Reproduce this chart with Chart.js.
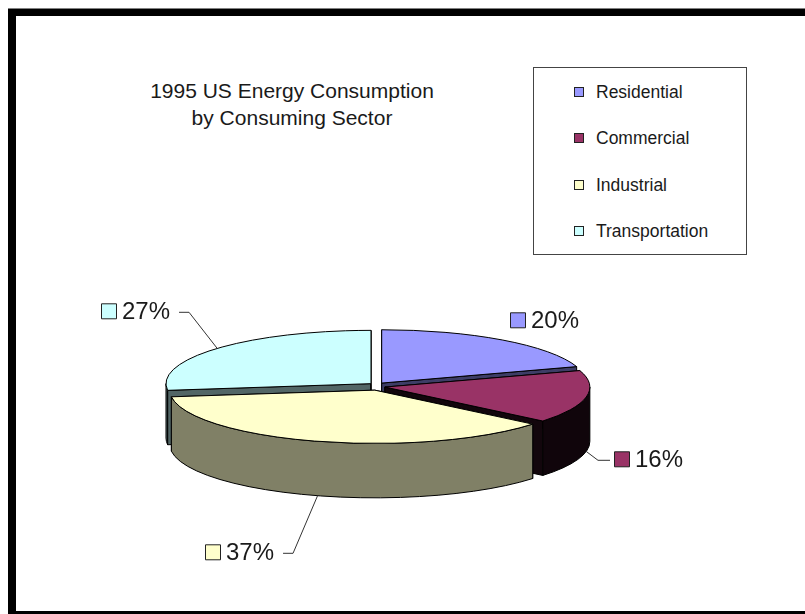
<!DOCTYPE html>
<html>
<head>
<meta charset="utf-8">
<script src="https://cdn.jsdelivr.net/npm/chart.js@4.4.1/dist/chart.umd.min.js"></script>
<style>
  body { margin: 0; width: 805px; height: 614px; overflow: hidden; background: #fff; font-family: "Liberation Sans", Arial, sans-serif; }
  #topline { position: absolute; left: 8px; top: 8px; width: 797px; height: 1px; background: #808080; }
  #frame { position: absolute; left: 8px; top: 9px; width: 797px; height: 605px; box-sizing: border-box;
           border-top: 7px solid #000; border-left: 8px solid #000; border-bottom: 3px solid #000; }
  #title { position: absolute; left: 142px; top: 77px; width: 300px; text-align: center; font-size: 21px; line-height: 27px; color: #1a1a1a; }
  #legend { position: absolute; left: 533px; top: 67px; width: 214px; height: 188px; box-sizing: border-box; border: 1px solid #444; }
  .item { position: absolute; left: 40px; height: 20px; line-height: 20px; font-size: 17.5px; color: #1a1a1a; white-space: nowrap; }
  .item span { display: inline-block; width: 8px; height: 8px; border: 1px solid #222; margin-right: 12px; vertical-align: 1px; }
  canvas { position: absolute; left: 0; top: 0; }
</style>
</head>
<body>
<div id="topline"></div>
<div id="frame"></div>
<div id="title">1995 US Energy Consumption<br>by Consuming Sector</div>
<div id="legend"></div>
<canvas id="chart" width="805" height="614"></canvas>
<script>
const sectors = ['Residential', 'Commercial', 'Industrial', 'Transportation'];
const shares = [20, 16, 37, 27];
const colors = ['#9999FF', '#993366', '#FFFFCC', '#CCFFFF'];

// tilt of the pie (ry / rx), explode distance, label spots relative to pie centre
const TILT = 0.26;
const EXPLODE = 8;
const LABEL_SPOT = [[133, -66], [237, 73], [-172, 166], [-276, -75]];

// legend
const legend = document.getElementById('legend');
sectors.forEach((name, i) => {
  const d = document.createElement('div');
  d.className = 'item';
  d.style.top = (14 + i * 46.3) + 'px';
  d.innerHTML = '<span style="background:' + colors[i] + '"></span>' + name;
  legend.appendChild(d);
});

function shade(hex, f) {
  const n = parseInt(hex.slice(1), 16);
  const r = Math.round(((n >> 16) & 255) * f), g = Math.round(((n >> 8) & 255) * f), b = Math.round((n & 255) * f);
  return 'rgb(' + r + ',' + g + ',' + b + ')';
}

// darker on the right hand side, like the old 3-D pie lighting
function sideShade(a) {
  const c = Math.cos(a);
  return 0.5 - 0.4 * Math.max(0, c) - 0.2 * Math.max(0, -c - 0.3);
}

const pie3d = {
  id: 'pie3d',
  beforeDatasetsDraw(chart) {
    const ctx = chart.ctx, area = chart.chartArea;
    const meta = chart.getDatasetMeta(0);
    const rx = (area.right - area.left) / 2;
    const ry = rx * TILT;
    const depth = (area.bottom - area.top) - 2 * ry;
    const cx = (area.left + area.right) / 2, cy = area.top + ry;
    const total = shares.reduce((a, b) => a + b, 0);

    const slices = meta.data.map((arc, i) => {
      const s = arc.startAngle, e = arc.endAngle, m = (s + e) / 2;
      return { i, s, e, m, ox: cx + EXPLODE * Math.cos(m), oy: cy + EXPLODE * 0.5 * Math.sin(m) };
    });

    ctx.save();
    ctx.lineWidth = 1;
    ctx.strokeStyle = '#000';
    ctx.lineJoin = 'round';

    const wall = (sl, a) => {
      const px = sl.ox + rx * Math.cos(a), py = sl.oy + ry * Math.sin(a);
      ctx.beginPath();
      ctx.moveTo(sl.ox, sl.oy);
      ctx.lineTo(px, py);
      ctx.lineTo(px, py + depth);
      ctx.lineTo(sl.ox, sl.oy + depth);
      ctx.closePath();
      ctx.fillStyle = shade(colors[sl.i], sl.i === 1 ? 0.12 : 0.4);
      ctx.fill();
      ctx.stroke();
    };

    slices.slice().sort((a, b) => Math.sin(a.m) - Math.sin(b.m)).forEach(sl => {
      wall(sl, sl.s);
      wall(sl, sl.e);
      const a0 = Math.max(sl.s, 0), a1 = Math.min(sl.e, Math.PI);
      if (a1 > a0) {
        ctx.beginPath();
        ctx.ellipse(sl.ox, sl.oy, rx, ry, 0, a0, a1);
        ctx.ellipse(sl.ox, sl.oy + depth, rx, ry, 0, a1, a0, true);
        ctx.closePath();
        ctx.fillStyle = shade(colors[sl.i], sideShade(sl.m));
        ctx.fill();
        ctx.stroke();
      }
      ctx.beginPath();
      ctx.moveTo(sl.ox, sl.oy);
      ctx.ellipse(sl.ox, sl.oy, rx, ry, 0, sl.s, sl.e);
      ctx.closePath();
      ctx.fillStyle = colors[sl.i];
      ctx.fill();
      ctx.stroke();
    });

    // percentage labels with leader lines
    ctx.font = '24px "Liberation Sans", Arial, sans-serif';
    ctx.textBaseline = 'middle';
    slices.forEach(sl => {
      const text = Math.round(shares[sl.i] / total * 100) + '%';
      const bx = cx + LABEL_SPOT[sl.i][0], by = cy + LABEL_SPOT[sl.i][1];
      const w = 21 + ctx.measureText(text).width;
      ctx.fillStyle = colors[sl.i];
      ctx.fillRect(bx + 0.5, by - 7.5, 15, 15);
      ctx.strokeStyle = '#222';
      ctx.strokeRect(bx + 0.5, by - 7.5, 15, 15);
      ctx.fillStyle = '#1a1a1a';
      ctx.fillText(text, bx + 21, by + 1);

      const front = Math.sin(sl.m) > 0;
      const ex = sl.ox + rx * Math.cos(sl.m);
      const ey = sl.oy + ry * Math.sin(sl.m) + (front ? depth : 0);
      const nx = Math.min(Math.max(ex, bx), bx + w), ny = Math.min(Math.max(ey, by - 8), by + 8);
      if (Math.hypot(ex - nx, ey - ny) > 25) {
        const left = bx + w / 2 < ex;
        const sx = left ? bx + w + 9 : bx - 4;
        const kx = left ? sx + 10 : sx - 12;
        ctx.beginPath();
        ctx.strokeStyle = '#333';
        ctx.moveTo(sx, by + 1);
        ctx.lineTo(kx, by + 1);
        ctx.lineTo(ex, ey);
        ctx.stroke();
      }
    });
    ctx.restore();
    return false;
  }
};

new Chart(document.getElementById('chart'), {
  type: 'pie',
  data: {
    labels: sectors,
    datasets: [{ data: shares, backgroundColor: colors, borderWidth: 0 }]
  },
  options: {
    responsive: false,
    animation: false,
    devicePixelRatio: 1,
    layout: { padding: { left: 172, right: 223, top: 333, bottom: 120 } },
    plugins: { legend: { display: false }, title: { display: false }, tooltip: { enabled: false } }
  },
  plugins: [pie3d]
});
</script>
</body>
</html>
